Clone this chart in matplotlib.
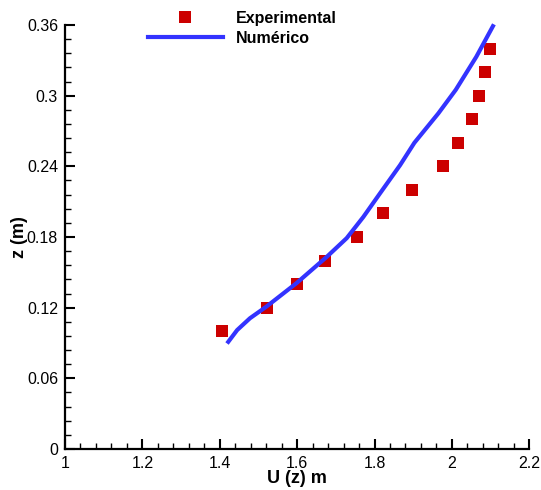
import matplotlib
matplotlib.use("Agg")
import matplotlib.pyplot as plt
from matplotlib.ticker import MultipleLocator, FuncFormatter

# experimental points
u_exp = [1.406, 1.521, 1.600, 1.672, 1.754, 1.823, 1.896, 1.976, 2.017, 2.052, 2.069, 2.085, 2.098]
z_exp = [0.100, 0.120, 0.140, 0.160, 0.180, 0.200, 0.220, 0.240, 0.260, 0.280, 0.300, 0.320, 0.340]

# numerical profile
u_num = [1.422, 1.445, 1.478, 1.521, 1.599, 1.676, 1.728, 1.771, 1.814, 1.866, 1.903, 1.965, 2.010, 2.063, 2.106]
z_num = [0.091, 0.101, 0.111, 0.121, 0.141, 0.163, 0.179, 0.197, 0.217, 0.241, 0.260, 0.285, 0.305, 0.333, 0.359]

plt.rcParams['font.family'] = ['Liberation Sans', 'DejaVu Sans']

fig = plt.figure(figsize=(5.41, 4.9), dpi=100)
ax = fig.add_axes([65 / 541, 41 / 490, 464.3 / 541, 424 / 490])

ax.plot(u_exp, z_exp, 's', color='#cc0000', markersize=8, markeredgewidth=0,
        label='Experimental', clip_on=False)
ax.plot(u_num, z_num, '-', color='#3333ff', linewidth=3, label='Numérico', clip_on=False)

ax.set_xlim(1, 2.2)
ax.set_ylim(0, 0.36)
ax.xaxis.set_major_locator(MultipleLocator(0.2))
ax.xaxis.set_minor_locator(MultipleLocator(0.04))
ax.yaxis.set_major_locator(MultipleLocator(0.06))
ax.yaxis.set_minor_locator(MultipleLocator(0.012))
fmt = FuncFormatter(lambda v, p: '%g' % round(v, 3))
ax.xaxis.set_major_formatter(fmt)
ax.yaxis.set_major_formatter(fmt)

for s in ['top', 'right']:
    ax.spines[s].set_visible(False)
for s in ['left', 'bottom']:
    ax.spines[s].set_linewidth(1.6)

ax.tick_params(which='major', direction='in', length=7.5, width=1.5, labelsize=11.5, pad=5)
ax.tick_params(which='minor', direction='in', length=4.3, width=1.0)

ax.set_xlabel('U (z) m', fontsize=13, fontweight='bold', labelpad=-1)
ax.set_ylabel('z (m)', fontsize=13, fontweight='bold', labelpad=-0.5)

fig.legend(loc='upper left', bbox_to_anchor=(148 / 541, 1 - 11 / 490), frameon=False,
           prop={'weight': 'bold', 'size': 11.5}, handlelength=4.67, handletextpad=0.83,
           labelspacing=0.3, borderpad=0, borderaxespad=0)

fig.savefig('out.png', dpi=100)
